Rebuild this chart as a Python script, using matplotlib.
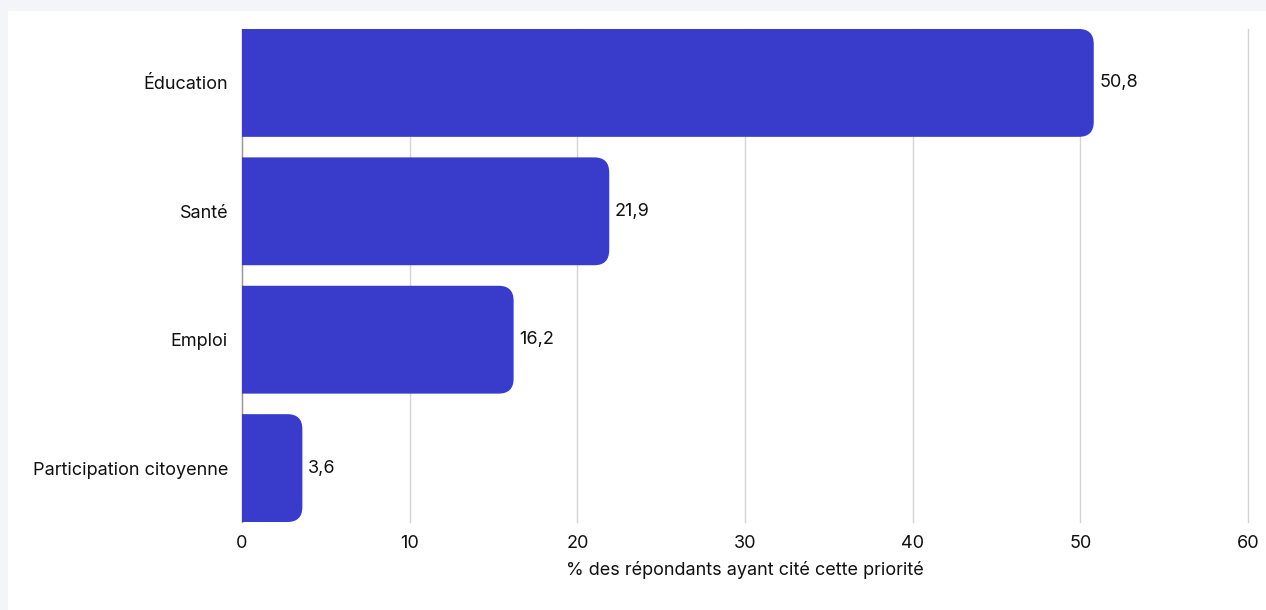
import matplotlib.pyplot as plt
from matplotlib.path import Path
from matplotlib.patches import PathPatch, Rectangle

categories = ['Éducation', 'Santé', 'Emploi', 'Participation citoyenne']
values = [50.8, 21.9, 16.2, 3.6]
value_labels = ['50,8', '21,9', '16,2', '3,6']
xticks = [0, 10, 20, 30, 40, 50, 60]

BAR_COLOR = '#393bcb'
FS = 13
plt.rcParams['font.family'] = ['Inter', 'DejaVu Sans']

fig = plt.figure(figsize=(12.66, 6.10), dpi=100, facecolor='#f4f5f9')
# white card behind the chart
fig.patches.append(Rectangle((8 / 1266, 0), 1, 1 - 11 / 610, transform=fig.transFigure,
                             facecolor='white', edgecolor='none', zorder=-10))

ax = fig.add_axes([242 / 1266, 88 / 610, (1248 - 242) / 1266, (581 - 88) / 610])
ax.set_facecolor('none')

h = 0.84
ax.set_xlim(0, 60)
ax.set_ylim(len(categories) - 1 + h / 2, -h / 2)

# corner radius in data units (about 15 px each way)
px_x = 60 / (1248 - 242)
px_y = (len(categories) - 1 + h) / (581 - 88)
rx, ry = 15 * px_x, 15 * px_y


def rounded_bar(y, w):
    y0, y1 = y - h / 2, y + h / 2
    r_x = min(rx, w / 2)
    verts = [(0, y0), (w - r_x, y0), (w, y0), (w, y0 + ry),
             (w, y1 - ry), (w, y1), (w - r_x, y1), (0, y1), (0, y0)]
    codes = [Path.MOVETO, Path.LINETO, Path.CURVE3, Path.CURVE3,
             Path.LINETO, Path.CURVE3, Path.CURVE3, Path.LINETO, Path.CLOSEPOLY]
    return PathPatch(Path(verts, codes), facecolor=BAR_COLOR, edgecolor='none', zorder=3)


for i, (v, lab) in enumerate(zip(values, value_labels)):
    ax.add_patch(rounded_bar(i, v))
    ax.text(v + 0.35, i, lab, va='center', ha='left', fontsize=FS, color='#111111')

ax.set_yticks(range(len(categories)))
ax.set_yticklabels(categories, fontsize=FS, color='#111111')
ax.set_xticks(xticks)
ax.set_xticklabels([str(t) for t in xticks], fontsize=FS, color='#111111')
ax.tick_params(axis='y', length=0, pad=10)
ax.tick_params(axis='x', length=0, pad=9)

ax.grid(axis='x', color='#d4d4d4', linewidth=1, zorder=0)
for g in ax.xaxis.get_gridlines():
    g.set_clip_on(False)
for s in ['top', 'right', 'bottom']:
    ax.spines[s].set_visible(False)
ax.spines['left'].set_color('#9a9a9a')
ax.spines['left'].set_linewidth(1)

ax.set_xlabel('% des répondants ayant cité cette priorité', fontsize=FS,
              color='#111111', labelpad=7)

fig.savefig('out.png', dpi=100, facecolor=fig.get_facecolor())
